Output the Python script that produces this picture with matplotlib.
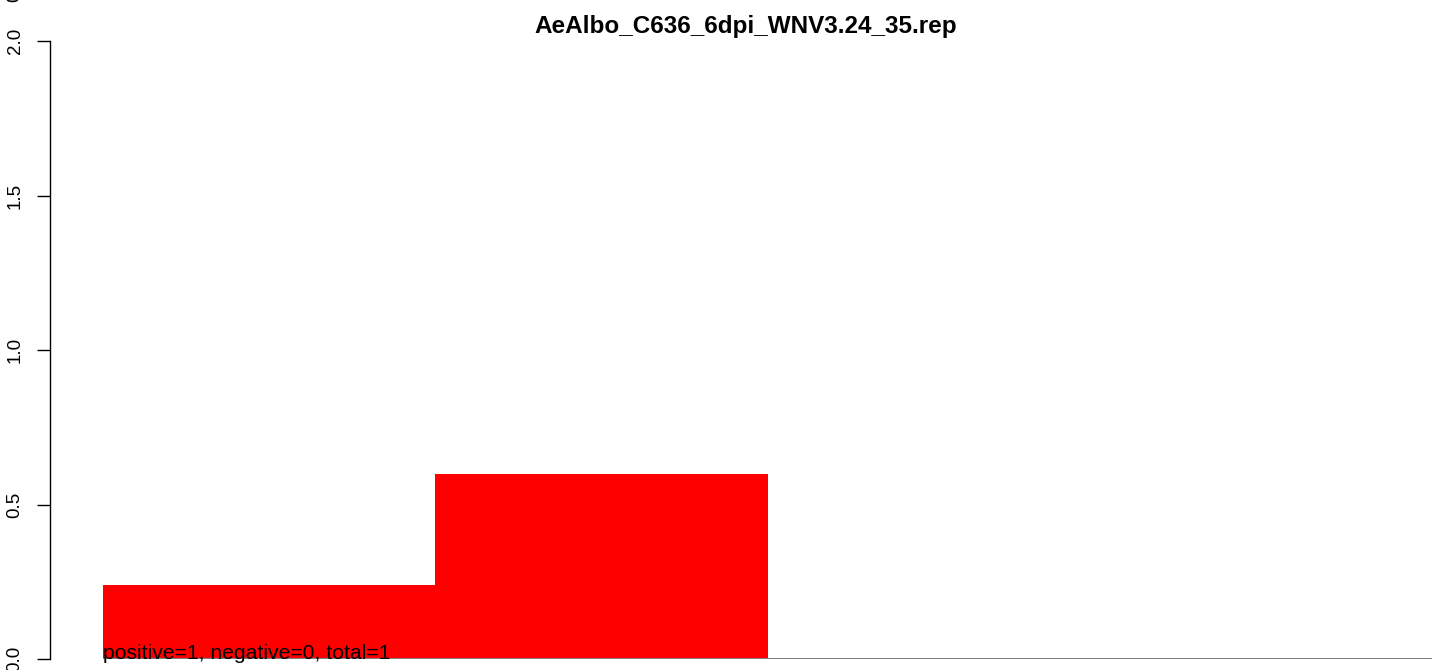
import matplotlib as mpl
import matplotlib.pyplot as plt

W, H = 1439, 670

title = "AeAlbo_C636_6dpi_WNV3.24_35.rep"
bar_values = [0.24, 0.6, 0.0, 0.0]
yticks = [0.0, 0.5, 1.0, 1.5, 2.0]
ytick_labels = ["0.0", "0.5", "1.0", "1.5", "2.0"]
note = "positive=1, negative=0, total=1"


def main():
    mpl.rcParams['font.family'] = ['Liberation Sans', 'DejaVu Sans']

    fig = plt.figure(figsize=(W / 100, H / 100), dpi=100)
    # axes in pixel terms: left at the y axis line, y=0 at 659px, y=2 at 41px
    ax = fig.add_axes([50 / W, (H - 659) / H, (W - 50) / W, (659 - 41) / H])

    n = len(bar_values)
    ax.bar(range(n), bar_values, width=1.0, align='edge', color='#ff0000',
           linewidth=0)
    ax.hlines(0, 0, n, color='#808080', linewidth=1.5, zorder=3)
    ax.text(0, 0, note, ha='left', va='baseline', fontsize=15.2, zorder=4)

    ax.set_xlim(-(103 - 50) / 332, n + (W - 1432) / 332)
    ax.set_ylim(0, 2)

    for side in ['top', 'right', 'bottom']:
        ax.spines[side].set_visible(False)
    ax.spines['left'].set_bounds(0, 2)
    ax.spines['left'].set_linewidth(1.0)
    ax.set_xticks([])
    ax.set_yticks(yticks)
    ax.set_yticklabels(ytick_labels, rotation=90, va='center', fontsize=13.5)
    ax.tick_params(axis='y', length=9.5, width=1.0, pad=9.5)

    fig.text(746 / W, 1 - 33 / H, title, ha='center', va='baseline',
             fontsize=17.5, fontweight='bold')
    # clipped label peeking in at the top-left corner
    fig.text(23 / W, 1 + 3 / H, "0", rotation=90, ha='right', va='center',
             fontsize=13.5)

    fig.savefig('out.png', dpi=100)


if __name__ == '__main__':
    main()
